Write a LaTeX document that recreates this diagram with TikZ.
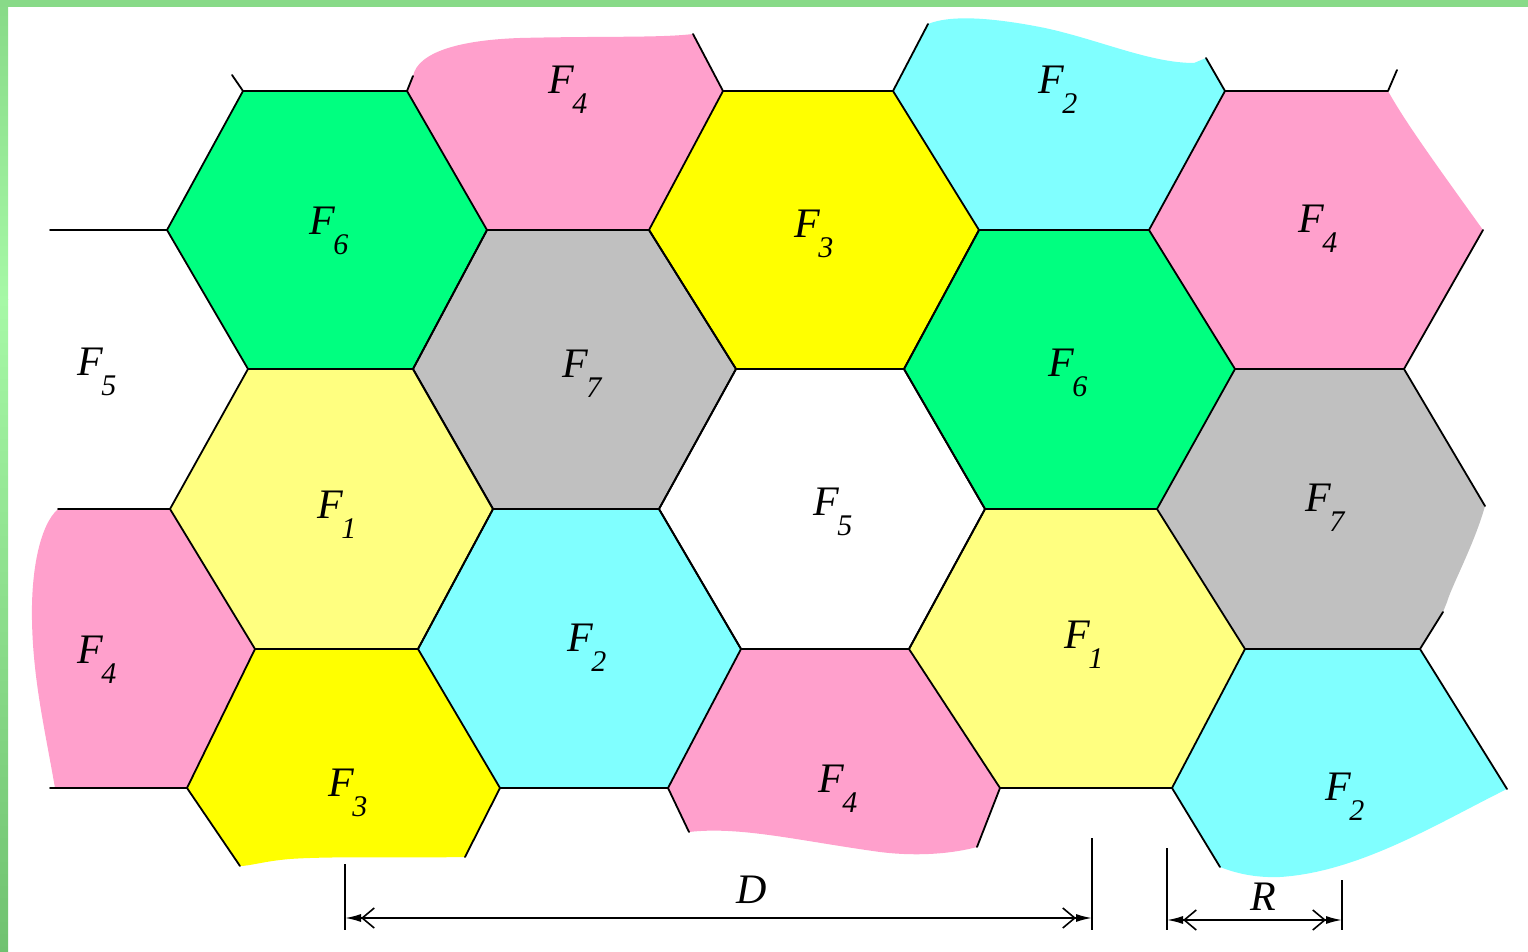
\documentclass[tikz,border=0pt]{standalone}
\usepackage{fontspec}
\setmainfont{Liberation Serif}
\usetikzlibrary{arrows.meta}
\definecolor{cgreen}{RGB}{0,255,128}
\definecolor{cpink}{RGB}{255,160,204}
\definecolor{cyel}{RGB}{255,255,0}
\definecolor{clyel}{RGB}{255,255,128}
\definecolor{ccyan}{RGB}{128,255,255}
\definecolor{cgray}{RGB}{192,192,192}
\definecolor{bordA}{RGB}{136,218,136}
\definecolor{bordB}{RGB}{166,248,166}
\definecolor{bordC}{RGB}{112,194,112}
\newcommand{\Fsub}[1]{F\kern-1pt\raisebox{-10pt}{\fontsize{15}{15}\selectfont #1}}
\begin{document}
\begin{tikzpicture}[x=0.5pt,y=-0.5pt,
  edge/.style={line width=0.9pt, line join=round, line cap=round},
  lbl/.style={inner sep=0pt, font=\fontsize{21}{21}\selectfont\itshape},
  extline/.style={line width=0.8pt},
  dimarr/.style={line width=0.8pt, {Latex[length=8pt,width=4pt]Straight Barb[length=6pt,width=10pt,line width=0.8pt]}-{Straight Barb[length=6pt,width=10pt,line width=0.8pt]Latex[length=8pt,width=4pt]}}]
\useasboundingbox[fill=white] (0,0) rectangle (1528,952);
% border
\shade[top color=bordA, bottom color=bordB] (0,0) rectangle (8,300);
\shade[top color=bordB, bottom color=bordC] (0,300) rectangle (8,952);
\fill[bordA] (0,0) rectangle (1528,7);
% lattice vertices
\coordinate (A1) at (243,91);  \coordinate (A2) at (407,91);  \coordinate (A3) at (723,91);
\coordinate (A4) at (893,91);  \coordinate (A5) at (1225,91); \coordinate (A6) at (1388,91);
\coordinate (B1) at (167,230); \coordinate (B2) at (487,230); \coordinate (B3) at (649,230);
\coordinate (B4) at (979,230); \coordinate (B5) at (1149,230);\coordinate (B6) at (1483,230);
\coordinate (C1) at (248,369); \coordinate (C2) at (413,369); \coordinate (C3) at (736,369);
\coordinate (C4) at (904,369); \coordinate (C5) at (1235,369);\coordinate (C6) at (1404,369);
\coordinate (D0) at (58,509);  \coordinate (D1) at (170,509); \coordinate (D2) at (493,509);
\coordinate (D3) at (659,509); \coordinate (D4) at (985,509); \coordinate (D5) at (1157,509);
\coordinate (D6) at (1485,506);
\coordinate (E1) at (255,649); \coordinate (E2) at (418,649); \coordinate (E3) at (741,649);
\coordinate (E4) at (909,649); \coordinate (E5) at (1245,649);\coordinate (E6) at (1420,649);
\coordinate (F0) at (50,788);  \coordinate (F1) at (187,788); \coordinate (F2) at (500,788);
\coordinate (F3) at (668,788); \coordinate (F4) at (1000,788);\coordinate (F5) at (1172,788);
\coordinate (F6) at (1507,789);
% free ends of partial edges
\coordinate (t1) at (232,75);  \coordinate (t0) at (50,230);  \coordinate (t2) at (413,76);
\coordinate (t3) at (693,34);  \coordinate (t4) at (928,24);  \coordinate (t5) at (1206,58);
\coordinate (t6) at (1397,70); \coordinate (t7) at (1443,612);\coordinate (t8) at (240,866);
\coordinate (t9) at (465,857); \coordinate (t10) at (689,832);\coordinate (t11) at (977,847);
\coordinate (t12) at (1220,867);\coordinate (t13) at (55,788);
% fills
\fill[cgreen] (A1)--(A2)--(B2)--(C2)--(C1)--(B1)--cycle;
\fill[cpink] (B2)--(A2)--(t2) .. controls (418,52) and (460,40) .. (520,38)
   .. controls (600,36) and (660,38) .. (t3)--(A3)--(B3)--cycle;
\fill[cyel] (A3)--(A4)--(B4)--(C4)--(C3)--(B3)--cycle;
\fill[ccyan] (B4)--(A4)--(t4) .. controls (950,15) and (990,17) .. (1045,28)
   .. controls (1100,40) and (1150,63) .. (1194,63)--(t5)--(A5)--(B5)--cycle;
\fill[cpink] (A5)--(A6) .. controls (1405,122) and (1440,170) .. (B6)--(C6)--(C5)--(B5)--cycle;
\fill[cgray] (B2)--(B3)--(C3)--(D3)--(D2)--(C2)--cycle;
\fill[cgreen] (B4)--(B5)--(C5)--(D5)--(D4)--(C4)--cycle;
\fill[clyel] (C1)--(C2)--(D2)--(E2)--(E1)--(D1)--cycle;
\fill[cgray] (C5)--(C6)--(D6) .. controls (1474,545) and (1452,585) .. (1447,602)--(t7)--(E6)--(E5)--(D5)--cycle;
\fill[cpink] (D0)--(D1)--(E1)--(F1)--(t13) .. controls (45,730) and (33,680) .. (32,620)
   .. controls (31,570) and (40,525) .. (D0)--cycle;
\fill[ccyan] (D2)--(D3)--(E3)--(F3)--(F2)--(E2)--cycle;
\fill[clyel] (D4)--(D5)--(E5)--(F5)--(F4)--(E4)--cycle;
\fill[cyel] (E1)--(E2)--(F2)--(t9) .. controls (420,858) and (330,856) .. (290,859)
   .. controls (265,861) and (250,866) .. (t8)--(F1)--cycle;
\fill[cpink] (E3)--(E4)--(F4)--(t11) .. controls (955,853) and (920,857) .. (880,852)
   .. controls (800,841) and (740,826) .. (t10)--(F3)--cycle;
\fill[ccyan] (E5)--(E6)--(F6) .. controls (1440,822) and (1360,872) .. (1280,877)
   .. controls (1255,878) and (1235,873) .. (t12)--(F5)--cycle;
% edges: complete cells
\draw[edge] (A1)--(A2)--(B2)--(C2)--(C1)--(B1)--cycle;
\draw[edge] (A3)--(A4)--(B4)--(C4)--(C3)--(B3)--cycle;
\draw[edge] (B2)--(B3)--(C3)--(D3)--(D2)--(C2)--cycle;
\draw[edge] (B4)--(B5)--(C5)--(D5)--(D4)--(C4)--cycle;
\draw[edge] (C1)--(C2)--(D2)--(E2)--(E1)--(D1)--cycle;
\draw[edge] (C3)--(C4)--(D4)--(E4)--(E3)--(D3)--cycle;
\draw[edge] (D2)--(D3)--(E3)--(F3)--(F2)--(E2)--cycle;
\draw[edge] (D4)--(D5)--(E5)--(F5)--(F4)--(E4)--cycle;
% edges: partial cells
\draw[edge] (A1)--(t1);
\draw[edge] (t0)--(B1);
\draw[edge] (A2)--(t2);
\draw[edge] (A3)--(t3);
\draw[edge] (A4)--(t4);
\draw[edge] (A5)--(t5);
\draw[edge] (B5)--(A5)--(A6)--(t6);
\draw[edge] (B6)--(C6)--(C5);
\draw[edge] (C6)--(D6);
\draw[edge] (t7)--(E6)--(E5);
\draw[edge] (E6)--(F6);
\draw[edge] (F5)--(t12);
\draw[edge] (D0)--(D1);
\draw[edge] (E1)--(F1)--(F0);
\draw[edge] (F1)--(t8);
\draw[edge] (F2)--(t9);
\draw[edge] (F3)--(t10);
\draw[edge] (F4)--(t11);
% labels
\node[lbl] (l1) at (329,231) {\Fsub{6}};
\node[lbl] (l2) at (568,90) {\Fsub{4}};
\node[lbl] (l3) at (814,234) {\Fsub{3}};
\node[lbl] (l4) at (1058,90) {\Fsub{2}};
\node[lbl] (l5) at (1318,229) {\Fsub{4}};
\node[lbl] (l6) at (97,372) {\Fsub{5}};
\node[lbl] (l7) at (582,374) {\Fsub{7}};
\node[lbl] (l8) at (1068,373) {\Fsub{6}};
\node[lbl] (l9) at (337,515) {\Fsub{1}};
\node[lbl] (l10) at (833,512) {\Fsub{5}};
\node[lbl] (l11) at (1325,508) {\Fsub{7}};
\node[lbl] (l12) at (97,660) {\Fsub{4}};
\node[lbl] (l13) at (587,648) {\Fsub{2}};
\node[lbl] (l14) at (1084,645) {\Fsub{1}};
\node[lbl] (l15) at (348,793) {\Fsub{3}};
\node[lbl] (l16) at (838,789) {\Fsub{4}};
\node[lbl] (l17) at (1345,797) {\Fsub{2}};
% dimensions
\coordinate (dA) at (345,918);  \coordinate (dB) at (1092,918);
\coordinate (dA1) at (345,864); \coordinate (dA2) at (345,930);
\coordinate (dB1) at (1092,838);\coordinate (dB2) at (1092,930);
\coordinate (rA) at (1167,920); \coordinate (rB) at (1342,920);
\coordinate (rA1) at (1167,848);\coordinate (rA2) at (1167,930);
\coordinate (rB1) at (1342,880);\coordinate (rB2) at (1342,930);
\draw[extline] (dA1)--(dA2);
\draw[extline] (dB1)--(dB2);
\draw[extline] (rA1)--(rA2);
\draw[extline] (rB1)--(rB2);
\draw[dimarr] (dA)--(dB);
\draw[dimarr] (rA)--(rB);
\node[lbl] (dlab) at (752,890) {D};
\node[lbl] (rlab) at (1263,897) {R};
\end{tikzpicture}
\end{document}
